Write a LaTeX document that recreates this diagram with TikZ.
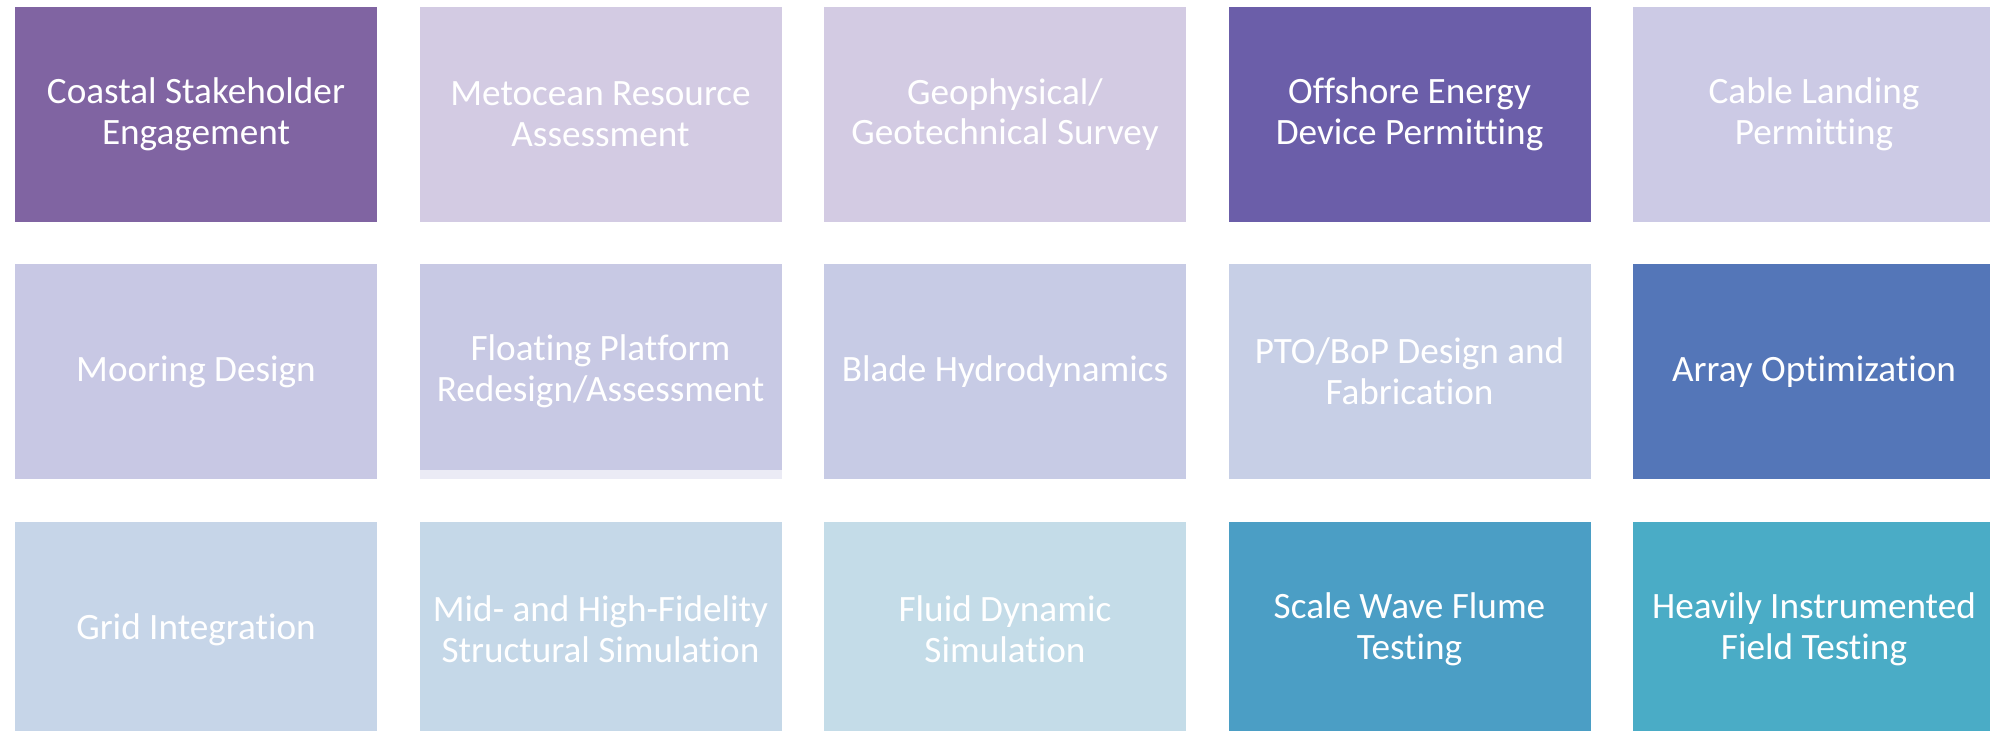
\documentclass[tikz,border=0pt]{standalone}
\usepackage{fontspec}
\setmainfont{Carlito}[Ligatures={NoCommon}]
\usepackage{tikz}
\usetikzlibrary{positioning}

\definecolor{purpleA}{HTML}{8064A2}
\definecolor{lilacA}{HTML}{D3CBE3}
\definecolor{violetA}{HTML}{6B5EA9}
\definecolor{lilacB}{HTML}{CCCAE5}
\definecolor{lilacC}{HTML}{C8C8E4}
\definecolor{lilacD}{HTML}{C8C9E4}
\definecolor{lilacE}{HTML}{C7CBE5}
\definecolor{lilacF}{HTML}{C7CFE6}
\definecolor{blueA}{HTML}{5476B8}
\definecolor{paleA}{HTML}{C6D5E8}
\definecolor{paleB}{HTML}{C5D8E8}
\definecolor{paleC}{HTML}{C4DCE8}
\definecolor{tealA}{HTML}{4B9EC5}
\definecolor{tealB}{HTML}{4AACC6}
\definecolor{stripcol}{HTML}{EBEBF5}

\tikzset{
  tile/.style={rectangle, fill=#1, text=white, align=center,
    minimum width=181pt, minimum height=107.5pt, inner sep=0pt, outer sep=0pt,
    font=\fontsize{18.6}{20.3}\selectfont}
}

\begin{document}
\begin{tikzpicture}[x=0.5pt,y=-0.5pt]
\useasboundingbox (0,0) rectangle (1990,731);
\clip (0,0) rectangle (1990,731);

% first row
\node[tile=purpleA] (stake) at (196,114.5) {Coastal Stakeholder\\Engagement};
\node[tile=lilacA] (meto) at (600.5,114.5) {Metocean Resource\\Assessment};
\node[tile=lilacA] (geo) at (1005,114.5) {Geophysical/\\Geotechnical Survey};
\node[tile=violetA] (permit) at (1409.5,114.5) {Offshore Energy\\Device Permitting};
\node[tile=lilacB] (cable) at (1814,114.5) {Cable Landing\\Permitting};

% second row
\node[tile=lilacC] (moor) at (196,371.5) {Mooring Design};
\node[tile=lilacD] (float) at (600.5,371.5) {Floating Platform\\Redesign/Assessment};
\node[tile=lilacE] (blade) at (1005,371.5) {Blade Hydrodynamics};
\node[tile=lilacF] (pto) at (1409.5,371.5) {PTO/BoP Design and\\Fabrication};
\node[tile=blueA] (array) at (1814,371.5) {Array Optimization};
\fill[stripcol] (float.south west) rectangle ([yshift=4.5pt]float.south east);

% third row
\node[tile=paleA] (grid) at (196,629.5) {Grid Integration};
\node[tile=paleB] (struct) at (600.5,629.5) {Mid- and High-Fidelity\\Structural Simulation};
\node[tile=paleC] (fluid) at (1005,629.5) {Fluid Dynamic\\Simulation};
\node[tile=tealA] (flume) at (1409.5,629.5) {Scale Wave Flume\\Testing};
\node[tile=tealB] (field) at (1814,629.5) {Heavily Instrumented\\Field Testing};
\end{tikzpicture}
\end{document}
